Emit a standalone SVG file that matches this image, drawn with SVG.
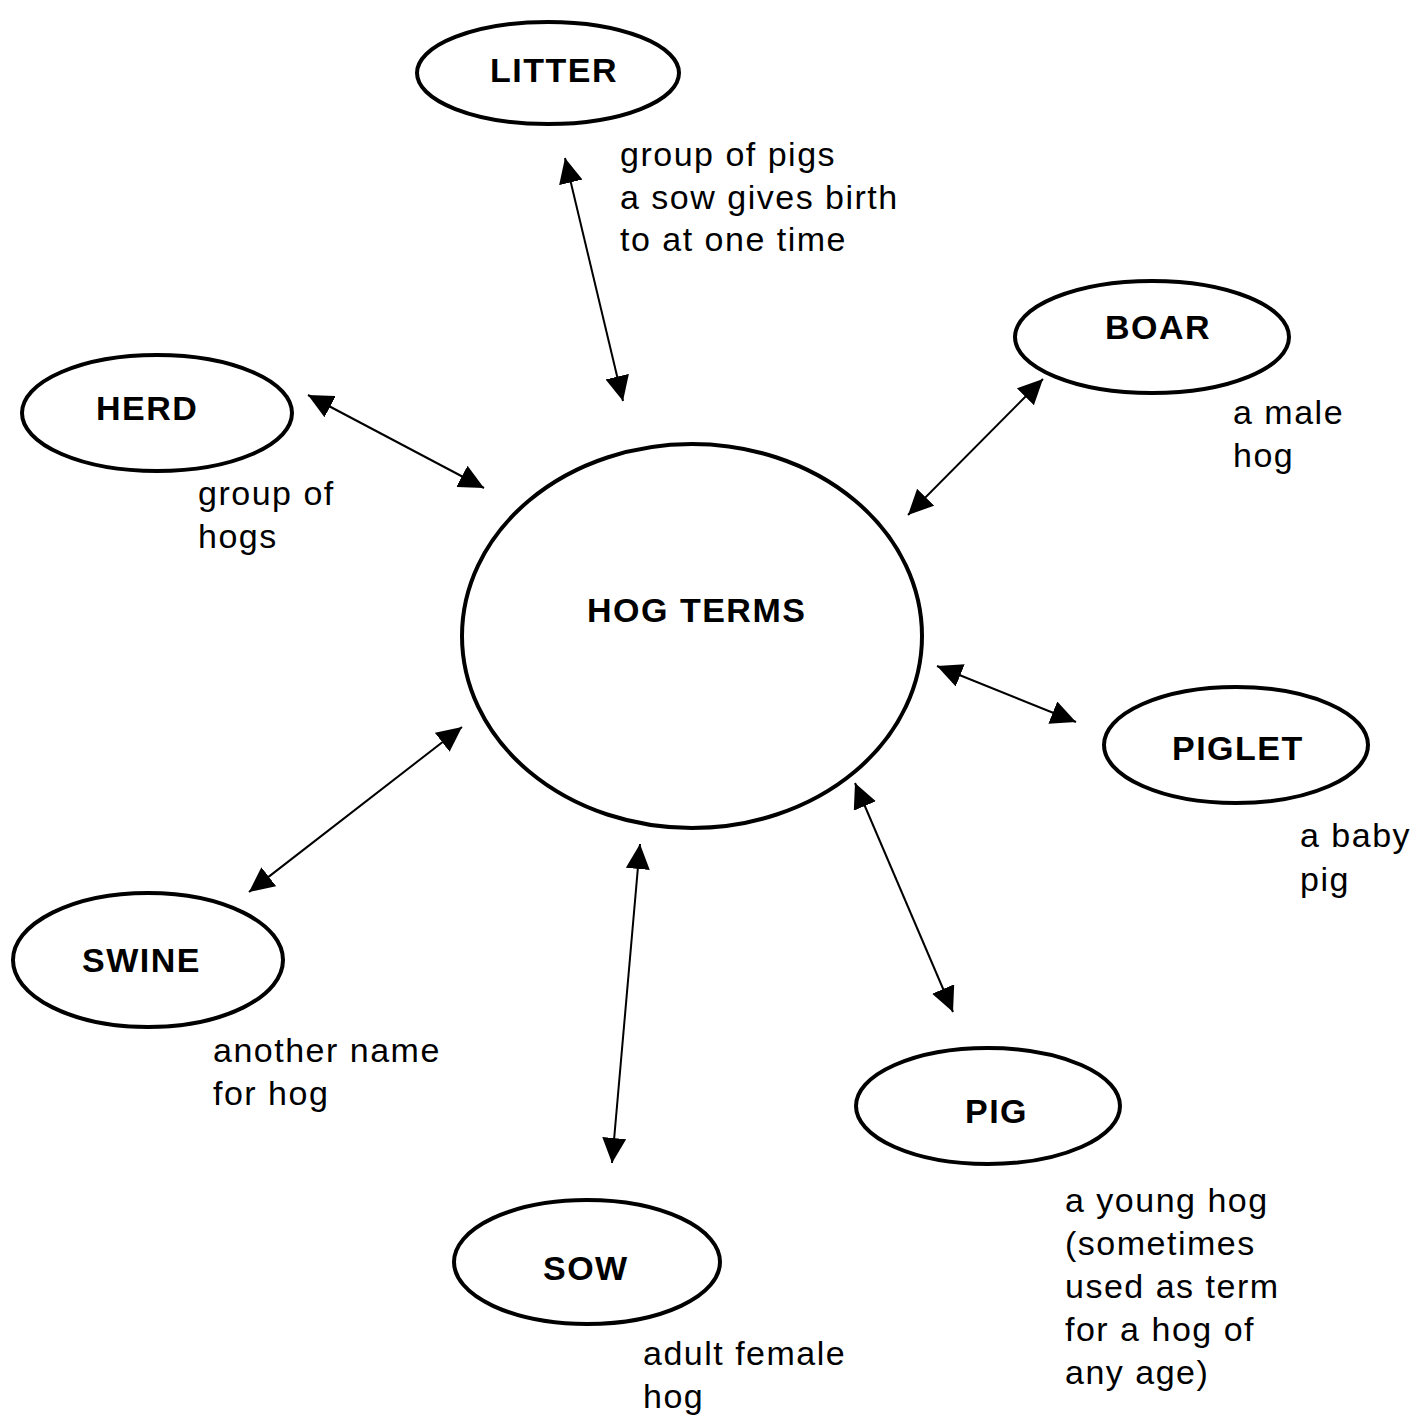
<svg xmlns="http://www.w3.org/2000/svg" width="1423" height="1417" viewBox="0 0 1423 1417">
<style>
.shape{fill:none;stroke:#000;stroke-width:4}
.label{font-family:"Liberation Sans",Arial,sans-serif;font-weight:bold;font-size:34px;letter-spacing:1.5px;fill:#000}
.desc{font-family:"Liberation Sans",Arial,sans-serif;font-size:34px;letter-spacing:1.5px;fill:#000}
.conn{stroke:#000;stroke-width:2;fill:none;marker-start:url(#ah);marker-end:url(#ah)}
</style>
<defs>
<marker id="ah" markerUnits="userSpaceOnUse" markerWidth="26" markerHeight="24" refX="25" refY="12" orient="auto-start-reverse">
<path d="M0,0 L25,12 L0,24 z" fill="#000"/>
</marker>
</defs>
<rect width="1423" height="1417" fill="#fff"/>
<g id="connectors">
<line class="conn" x1="565" y1="158" x2="623" y2="401"/>
<line class="conn" x1="308" y1="395" x2="484" y2="488"/>
<line class="conn" x1="1043" y1="379" x2="908" y2="515"/>
<line class="conn" x1="937" y1="666" x2="1076" y2="722"/>
<line class="conn" x1="855" y1="783" x2="953" y2="1012"/>
<line class="conn" x1="640" y1="844" x2="612" y2="1163"/>
<line class="conn" x1="462" y1="727" x2="249" y2="892"/>
</g>
<g id="hog-terms">
<ellipse class="shape" cx="692" cy="636" rx="230" ry="192"/>
<text class="label" x="587" y="622">HOG TERMS</text>
</g>
<g id="litter">
<ellipse class="shape" cx="548" cy="73" rx="131" ry="51"/>
<text class="label" x="490" y="82">LITTER</text>
<text class="desc" x="620" y="166">group of pigs</text>
<text class="desc" x="620" y="209">a sow gives birth</text>
<text class="desc" x="620" y="251">to at one time</text>
</g>
<g id="boar">
<ellipse class="shape" cx="1152" cy="337" rx="137" ry="56"/>
<text class="label" x="1105" y="339">BOAR</text>
<text class="desc" x="1233" y="424">a male</text>
<text class="desc" x="1233" y="467">hog</text>
</g>
<g id="herd">
<ellipse class="shape" cx="157" cy="413" rx="135" ry="58"/>
<text class="label" x="96" y="420">HERD</text>
<text class="desc" x="198" y="505">group of</text>
<text class="desc" x="198" y="548">hogs</text>
</g>
<g id="piglet">
<ellipse class="shape" cx="1236" cy="745" rx="132" ry="58"/>
<text class="label" x="1172" y="760">PIGLET</text>
<text class="desc" x="1300" y="847">a baby</text>
<text class="desc" x="1300" y="891">pig</text>
</g>
<g id="swine">
<ellipse class="shape" cx="148" cy="960" rx="135" ry="67"/>
<text class="label" x="82" y="972">SWINE</text>
<text class="desc" x="213" y="1062">another name</text>
<text class="desc" x="213" y="1105">for hog</text>
</g>
<g id="pig">
<ellipse class="shape" cx="988" cy="1106" rx="132" ry="58"/>
<text class="label" x="965" y="1123">PIG</text>
<text class="desc" x="1065" y="1212">a young hog</text>
<text class="desc" x="1065" y="1255">(sometimes</text>
<text class="desc" x="1065" y="1298">used as term</text>
<text class="desc" x="1065" y="1341">for a hog of</text>
<text class="desc" x="1065" y="1384">any age)</text>
</g>
<g id="sow">
<ellipse class="shape" cx="587" cy="1262" rx="133" ry="62"/>
<text class="label" x="543" y="1280">SOW</text>
<text class="desc" x="643" y="1365">adult female</text>
<text class="desc" x="643" y="1408">hog</text>
</g>
</svg>
